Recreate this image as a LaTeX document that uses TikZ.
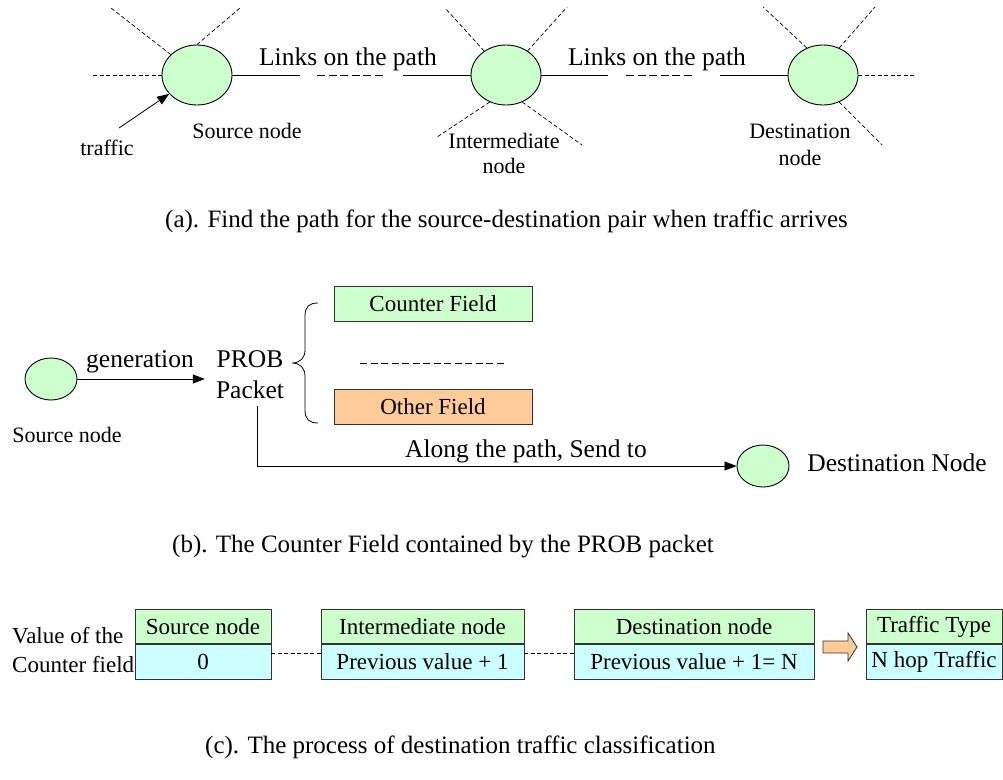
\documentclass[tikz,border=0pt]{standalone}
\usepackage{fontspec}
\setmainfont{Liberation Serif}
\usetikzlibrary{shapes.geometric,arrows.meta,calc}
\definecolor{nodegreen}{HTML}{CCFFCC}
\definecolor{valcyan}{HTML}{CCFFFF}
\definecolor{fieldorange}{HTML}{FFCC99}

\begin{document}
\begin{tikzpicture}[x=1pt,y=-1pt,
  netnode/.style={ellipse, draw, line width=0.9pt, fill=nodegreen, inner sep=0pt, minimum width=70pt, minimum height=60pt},
  smallnode/.style={ellipse, draw, line width=0.9pt, fill=nodegreen, inner sep=0pt, minimum width=52pt, minimum height=42pt},
  lbl/.style={font=\fontsize{22}{26}\selectfont, inner sep=0pt, anchor=base},
  biglbl/.style={font=\fontsize{25.5}{30}\selectfont, inner sep=0pt, anchor=base},
  caption/.style={font=\fontsize{25}{30}\selectfont, inner sep=0pt, anchor=base west},
  spoke/.style={dash pattern=on 4pt off 2.5pt, line width=0.7pt},
  gap/.style={dash pattern=on 8pt off 3.5pt, line width=0.8pt},
  fine gap/.style={dash pattern=on 7pt off 3.5pt, line width=0.7pt},
  link/.style={line width=0.8pt},
  tip/.style={-{Triangle[length=12pt,width=9pt]}},
  field/.style={draw=black!80, line width=0.9pt, inner sep=0pt, minimum width=198pt, minimum height=35pt, font=\fontsize{23}{27}\selectfont},
  cell/.style={draw=black!80, line width=0.9pt, inner sep=0pt, minimum height=34.5pt, font=\fontsize{23}{27}\selectfont},
]
\useasboundingbox (0,0) rectangle (1003,779);

% ---------- (a) path between source and destination ----------
\node[netnode] (src) at (197,75) {};
\node[netnode] (mid) at (506,75) {};
\node[netnode] (dst) at (823,75) {};

% other links around each node
\coordinate (srcW)  at (93,75);
\coordinate (srcNW) at (111,8);
\coordinate (srcNE) at (240,8);
\coordinate (midNW) at (445,8);
\coordinate (midNE) at (567,7);
\coordinate (midSW) at (437,137);
\coordinate (midSE) at (582,145);
\coordinate (dstNW) at (763,7);
\coordinate (dstNE) at (875,7);
\coordinate (dstSE) at (882,145);
\coordinate (dstE)  at (915,75);

\draw[spoke] (srcW) -- (src.west);
\draw[spoke] (src) -- (srcNW);
\draw[spoke] (src.north) -- (srcNE);
\draw[spoke] (mid) -- (midNW);
\draw[spoke] (mid) -- (midNE);
\draw[spoke] (mid.239) -- (midSW);
\draw[spoke] (mid.301) -- (midSE);
\draw[spoke] (dst.121) -- (dstNW);
\draw[spoke] (dst.59) -- (dstNE);
\draw[spoke] (dst.301) -- (dstSE);
\draw[spoke] (dst.east) -- (dstE);

% links on the path, with a gap of further hops in between
\coordinate (p1) at (300,75);
\coordinate (p2) at (317,75);
\coordinate (p3) at (385,75);
\coordinate (p4) at (403,75);
\coordinate (q1) at (608,75);
\coordinate (q2) at (626,75);
\coordinate (q3) at (694,75);
\coordinate (q4) at (720,75);
\draw[link] (src.east) -- (p1);
\draw[gap] (p2) -- (p3);
\draw[link] (p4) -- (mid.west);
\draw[link] (mid.east) -- (q1);
\draw[gap] (q2) -- (q3);
\draw[link] (q4) -- (dst.west);

\node[biglbl] (links1) at (348,65) {Links on the path};
\node[biglbl] (links2) at (657,65) {Links on the path};
\node[lbl] (srclbl) at (247,138) {Source node};
\node[lbl] (trlbl) at (107,155) {traffic};
\node[lbl] (midlbl1) at (504,148) {Intermediate};
\node[lbl] (midlbl2) at (504,173) {node};
\node[lbl] (dstlbl1) at (800,138) {Destination};
\node[lbl] (dstlbl2) at (800,165) {node};

\coordinate (trs) at (119,128);
\draw[link,tip] (trs) -- (src);

\node[caption] (capa) at (165,227) {(a). Find the path for the source-destination pair when traffic arrives};

% ---------- (b) PROB packet ----------
\node[smallnode] (bsrc) at (51,379) {};
\node[lbl] (bsrclbl) at (67,442) {Source node};
\node[biglbl] (gen) at (140,367) {generation};
\node[biglbl] (pkt1) at (250,367) {PROB};
\node[biglbl] (pkt2) at (250,398) {Packet};
\draw[link,tip] (bsrc.east) -- ([xshift=-11pt]bsrc.east -| pkt2.west);

% packet layout
\draw[line width=0.8pt] (318,303) .. controls (309,303) and (305,307) .. (305,316)
  -- (305,350) .. controls (305,358) and (300,363) .. (292,363)
  .. controls (300,363) and (305,368) .. (305,376)
  -- (305,410) .. controls (305,419) and (309,423) .. (318,423);
\node[field, fill=nodegreen] (cf) at (433,303.5) {Counter Field};
\node[field, fill=fieldorange] (of) at (433,406.5) {Other Field};
\coordinate (fd1) at (360,363);
\coordinate (fd2) at (507,363);
\draw[fine gap] (fd1) -- (fd2);

\node[smallnode] (bdst) at (763,466) {};
\node[biglbl] (bdstlbl) at (897,471) {Destination Node};
\draw[link,tip] ([xshift=7pt,yshift=-8pt]pkt2.south) |- (bdst);
\node[biglbl] (along) at (526,457) {Along the path, Send to};

\node[caption] (capb) at (172,552) {(b). The Counter Field contained by the PROB packet};

% ---------- (c) counter values ----------
\node[lbl, anchor=base west, font=\fontsize{23}{27}\selectfont] (val1) at (12,643) {Value of the};
\node[lbl, anchor=base west, font=\fontsize{23}{27}\selectfont] (val2) at (12,672) {Counter field};

\node[cell, fill=nodegreen, minimum width=136pt] (b1t) at (203,626.5) {Source node};
\node[cell, fill=valcyan, minimum width=136pt, anchor=north] (b1b) at (b1t.south) {0};
\node[cell, fill=nodegreen, minimum width=203pt] (b2t) at (422.5,626.5) {Intermediate node};
\node[cell, fill=valcyan, minimum width=203pt, anchor=north] (b2b) at (b2t.south) {Previous value + 1};
\node[cell, fill=nodegreen, minimum width=240pt] (b3t) at (694,626.5) {Destination node};
\node[cell, fill=valcyan, minimum width=240pt, anchor=north] (b3b) at (b3t.south) {Previous value + 1= N};
\node[cell, fill=nodegreen, minimum width=136pt] (b4t) at (934,626.5) {Traffic Type};
\node[cell, fill=valcyan, minimum width=136pt, anchor=north] (b4b) at (b4t.south) {N hop Traffic};

\draw[spoke] ([yshift=9pt]b1b.east) -- ([yshift=9pt]b2b.west);
\draw[spoke] ([yshift=9pt]b2b.east) -- ([yshift=9pt]b3b.west);

% block arrow towards the traffic type
\draw[draw=black!80, line width=0.8pt, fill=fieldorange]
  (823,641) -- (848,641) -- (848,633) -- (857,647) -- (848,661) -- (848,653) -- (823,653) -- cycle;

\node[caption] (capc) at (205,753) {(c). The process of destination traffic classification};
\end{tikzpicture}
\end{document}
